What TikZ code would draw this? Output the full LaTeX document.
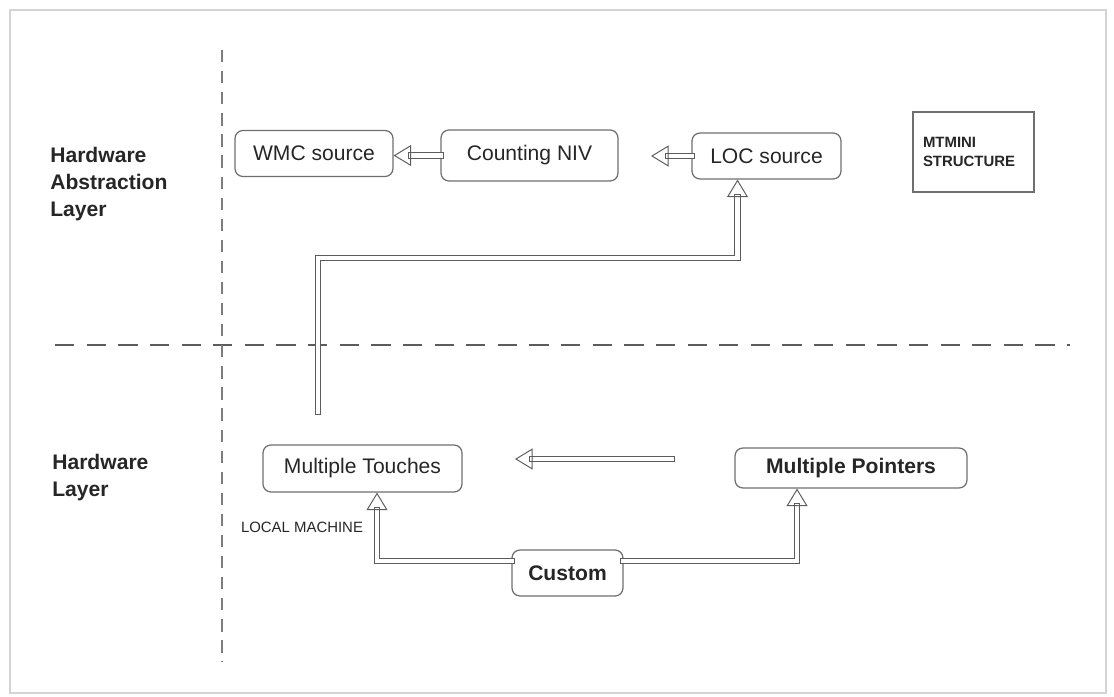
\documentclass[tikz,border=0pt]{standalone}
\usepackage{fontspec}
\setmainfont{Liberation Sans}
\usetikzlibrary{arrows.meta}
\definecolor{layerline}{HTML}{5C5C5C}
\definecolor{boxgray}{HTML}{6E6E6E}
\definecolor{textgray}{HTML}{262626}
\definecolor{framegray}{HTML}{D4D4D4}
\tikzset{
  block/.style={draw=boxgray,rounded corners=4.5pt,line width=0.7pt,
    minimum height=0.92cm,inner sep=0pt,font=\fontsize{12}{14}\selectfont,
    text=textgray},
  strong block/.style={block,font=\fontsize{12}{14}\selectfont\bfseries},
  note box/.style={draw=boxgray,line width=0.7pt,minimum width=2.42cm,
    minimum height=1.6cm,inner xsep=0.2cm,text width=2.02cm,align=left,
    font=\fontsize{8.5}{11}\selectfont\bfseries,text=textgray},
  layer label/.style={anchor=north west,inner sep=0pt,align=left,
    font=\fontsize{12}{15.3}\selectfont\bfseries,text=textgray},
  gen/.style={draw=layerline,line width=0.55pt,double=white,
    double distance=2.6pt,line cap=rect,
    -{Triangle[open,length=10pt,width=12pt]}},
  divider/.style={draw=layerline,line width=1.2pt,dash pattern=on 11pt off 7pt},
  tier/.style={draw=layerline!80,line width=1pt,dash pattern=on 7pt off 5pt}
}
\begin{document}
\begin{tikzpicture}[x=0.02cm,y=-0.02cm]
  \useasboundingbox (0,0) rectangle (1114,696);
  \draw[framegray,line width=1.5pt] (10,10) rectangle (1106,693);
  % layer dividers
  \draw[divider] (55,345) -- (1070,345);
  \draw[tier] (222,50) -- (222,662);
  \node[layer label] (hal) at (50,147) {Hardware\\Abstraction\\Layer};
  \node[layer label] (hwl) at (52,454) {Hardware\\Layer};
  % abstraction layer
  \node[block,minimum width=3.16cm] (wmc) at (314,153.5) {WMC source};
  \node[block,minimum width=3.54cm,minimum height=1.02cm] (niv) at (529.5,155.5) {Counting NIV};
  \node[block,minimum width=2.98cm] (loc) at (766.5,156) {LOC source};
  \node[note box] (mtmini) at (973.5,152) {MTMINI\\STRUCTURE};
  % hardware layer
  \node[block,minimum width=3.98cm,minimum height=0.94cm] (touches) at (362.5,468.5) {Multiple Touches};
  \node[strong block,minimum width=4.64cm,minimum height=0.8cm] (pointers) at (851,468) {Multiple Pointers};
  \node[strong block,minimum width=2.22cm] (custom) at (567.5,573) {Custom};
  \node[font=\fontsize{8.5}{10}\selectfont,text=textgray,inner sep=0pt] (localm) at (302,527) {LOCAL MACHINE};
  \coordinate (locend) at (651,156);
  \coordinate (hwstart) at (318,412);
  \coordinate (hwbend) at (737.5,258);
  \coordinate (mpstart) at (672,459);
  \coordinate (mpend) at (515,459);
  \draw[gen] (niv.west) -- (niv.west -| wmc.east);
  \draw[gen] (loc.west) -- (locend);
  \draw[gen] (hwstart) |- (hwbend) -- (hwbend |- loc.south);
  \draw[gen] (mpstart) -- (mpend);
  \draw[gen] ([yshift=0.24cm]custom.west) -| ([xshift=0.29cm]touches.south);
  \draw[gen] ([yshift=0.24cm]custom.east) -| ([xshift=-1.08cm]pointers.south);
\end{tikzpicture}
\end{document}
